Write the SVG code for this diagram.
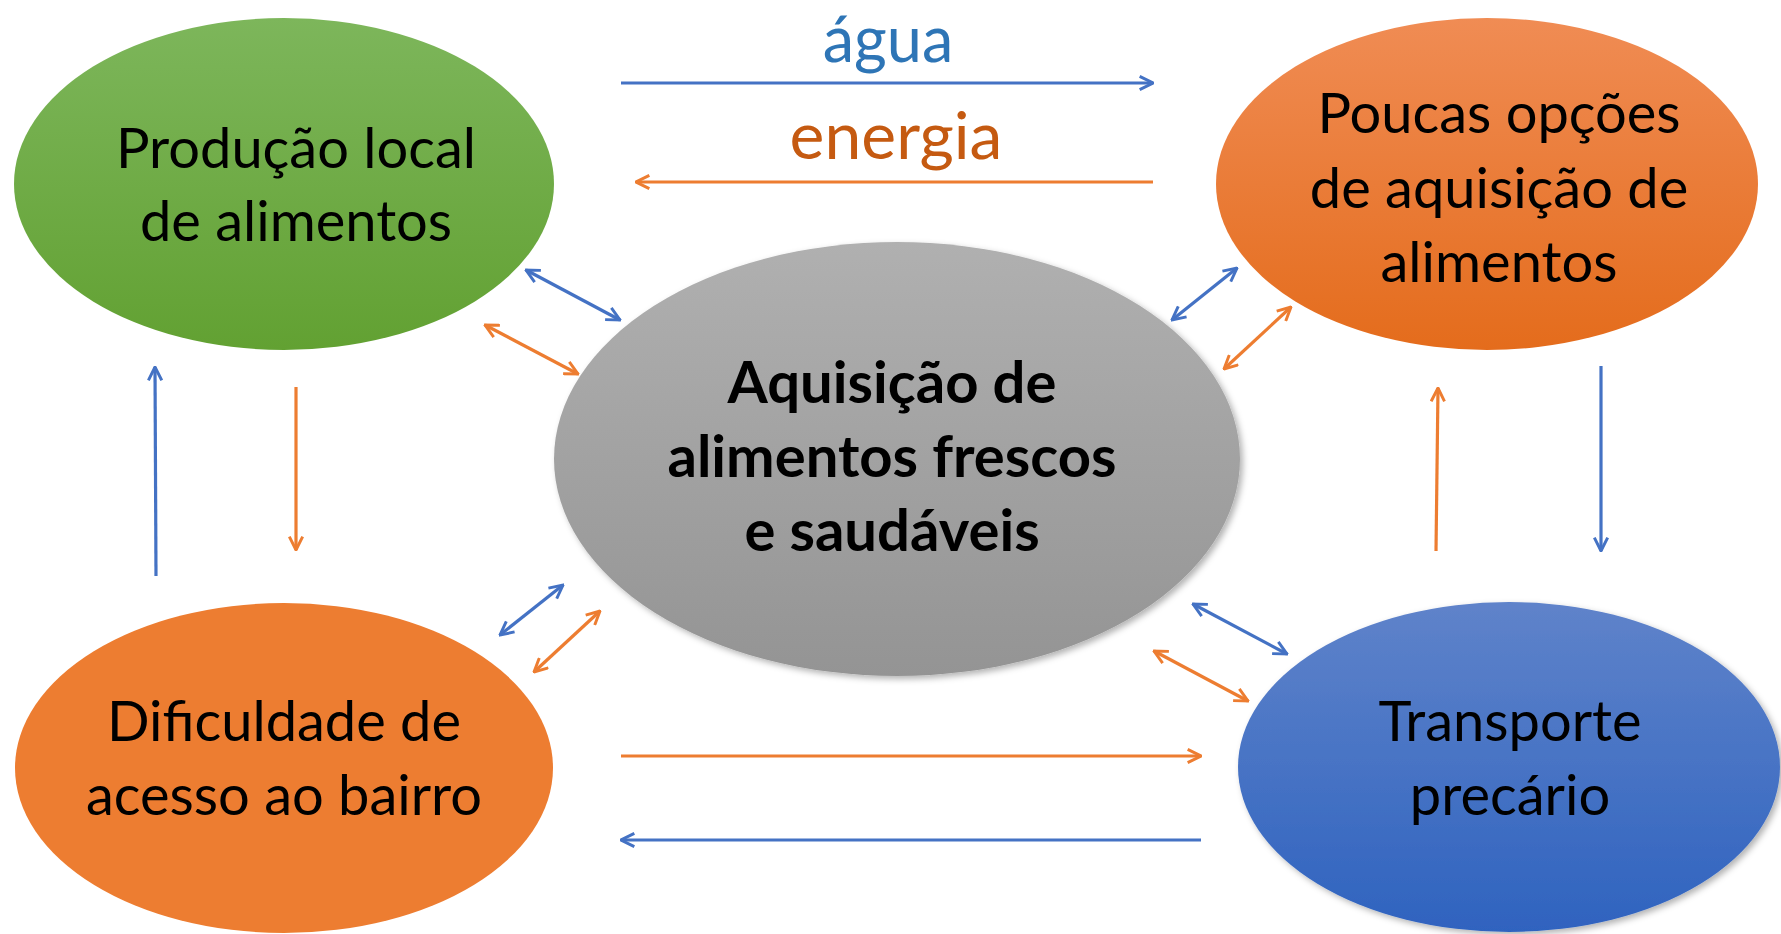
<svg xmlns="http://www.w3.org/2000/svg" width="1781" height="934" viewBox="0 0 1781 934">
<style>
.t{font-family:Lato,"Liberation Sans",sans-serif;font-size:56px;fill:#000;text-anchor:middle}
.b{font-weight:bold;font-size:58px}
.bl{stroke:#4472C4;stroke-width:3.2;fill:none}
.or{stroke:#ED7D31;stroke-width:3.2;fill:none}
</style>
<defs>
<linearGradient id="gG" x1="0" y1="0" x2="0" y2="1"><stop offset="0" stop-color="#7DB65B"/><stop offset="1" stop-color="#62A132"/></linearGradient>
<linearGradient id="gO" x1="0" y1="0" x2="0" y2="1"><stop offset="0" stop-color="#F08C54"/><stop offset="1" stop-color="#E46C1C"/></linearGradient>
<linearGradient id="gB" x1="0" y1="0" x2="0" y2="1"><stop offset="0" stop-color="#5F83CA"/><stop offset="1" stop-color="#2F63BF"/></linearGradient>
<linearGradient id="gC" x1="0" y1="0" x2="0" y2="1"><stop offset="0" stop-color="#B0B0B0"/><stop offset="1" stop-color="#949494"/></linearGradient>
<filter id="sh" x="-10%" y="-10%" width="125%" height="125%"><feDropShadow dx="3" dy="3" stdDeviation="3" flood-color="#000" flood-opacity="0.3"/></filter>
<marker id="mB" viewBox="0 0 12 12" refX="11" refY="6" markerWidth="16" markerHeight="16" markerUnits="userSpaceOnUse" orient="auto-start-reverse"><path d="M1,1 L11,6 L1,11" fill="none" stroke="#4472C4" stroke-width="2.2"/></marker>
<marker id="mO" viewBox="0 0 12 12" refX="11" refY="6" markerWidth="16" markerHeight="16" markerUnits="userSpaceOnUse" orient="auto-start-reverse"><path d="M1,1 L11,6 L1,11" fill="none" stroke="#ED7D31" stroke-width="2.2"/></marker>
</defs>
<rect width="1781" height="934" fill="#fff"/>
<g id="node-producao">
<ellipse cx="284" cy="184" rx="270" ry="166" fill="url(#gG)"/>
<text class="t" x="296" y="168">Produção local</text>
<text class="t" x="296" y="241">de alimentos</text>
</g>
<g id="node-poucas">
<ellipse cx="1487" cy="184" rx="271" ry="166" fill="url(#gO)"/>
<text class="t" x="1499" y="133">Poucas opções</text>
<text class="t" x="1499" y="208">de aquisição de</text>
<text class="t" x="1499" y="282">alimentos</text>
</g>
<g id="node-aquisicao">
<ellipse cx="897" cy="459" rx="343" ry="217" fill="url(#gC)" filter="url(#sh)"/>
<text class="t b" x="892" y="403">Aquisição de</text>
<text class="t b" x="892" y="477">alimentos frescos</text>
<text class="t b" x="892" y="551">e saudáveis</text>
</g>
<g id="node-dificuldade">
<ellipse cx="284" cy="768" rx="269" ry="165" fill="#ED7D31"/>
<text class="t" x="284" y="741">Dificuldade de</text>
<text class="t" x="284" y="815">acesso ao bairro</text>
</g>
<g id="node-transporte">
<ellipse cx="1509" cy="767" rx="271" ry="165" fill="url(#gB)" filter="url(#sh)"/>
<text class="t" x="1510" y="741">Transporte</text>
<text class="t" x="1510" y="815">precário</text>
</g>
<g id="labels">
<text class="t" x="888" y="62" style="fill:#2E75B6;font-size:63px">água</text>
<text class="t" x="896" y="159" style="fill:#C55A11;font-size:66px">energia</text>
</g>
<g id="connectors">
<line class="bl" x1="621" y1="83" x2="1153" y2="83" marker-end="url(#mB)"/>
<line class="or" x1="1153" y1="182" x2="636" y2="182" marker-end="url(#mO)"/>
<line class="bl" x1="526" y1="270" x2="620" y2="320" marker-start="url(#mB)" marker-end="url(#mB)"/>
<line class="or" x1="485" y1="325" x2="578" y2="374" marker-start="url(#mO)" marker-end="url(#mO)"/>
<line class="bl" x1="1237" y1="268" x2="1172" y2="320" marker-start="url(#mB)" marker-end="url(#mB)"/>
<line class="or" x1="1291" y1="307" x2="1224" y2="369" marker-start="url(#mO)" marker-end="url(#mO)"/>
<line class="bl" x1="156" y1="576" x2="155" y2="367" marker-end="url(#mB)"/>
<line class="or" x1="296" y1="387" x2="296" y2="550" marker-end="url(#mO)"/>
<line class="or" x1="1436" y1="551" x2="1438" y2="388" marker-end="url(#mO)"/>
<line class="bl" x1="1601" y1="366" x2="1601" y2="551" marker-end="url(#mB)"/>
<line class="bl" x1="563" y1="585" x2="500" y2="635" marker-start="url(#mB)" marker-end="url(#mB)"/>
<line class="or" x1="600" y1="611" x2="534" y2="672" marker-start="url(#mO)" marker-end="url(#mO)"/>
<line class="bl" x1="1193" y1="604" x2="1287" y2="654" marker-start="url(#mB)" marker-end="url(#mB)"/>
<line class="or" x1="1154" y1="651" x2="1248" y2="701" marker-start="url(#mO)" marker-end="url(#mO)"/>
<line class="or" x1="621" y1="756" x2="1201" y2="756" marker-end="url(#mO)"/>
<line class="bl" x1="1201" y1="840" x2="621" y2="840" marker-end="url(#mB)"/>
</g>
</svg>
